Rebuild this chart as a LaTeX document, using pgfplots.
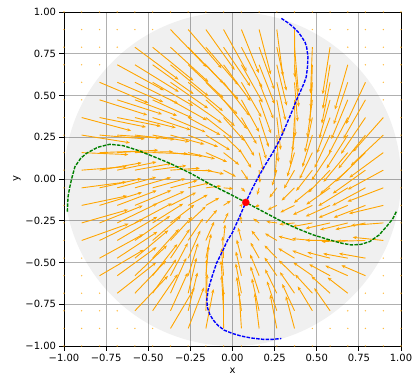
\documentclass[border=0pt]{standalone}
\usepackage{pgfplots}
\pgfplotsset{compat=1.18}
\usepackage{fontspec}
\setmainfont{DejaVu Sans}
\usetikzlibrary{arrows.meta}
\definecolor{mplorange}{HTML}{FFA500}
\definecolor{mplblue}{HTML}{0000FF}
\definecolor{mplgreen}{HTML}{008000}
\definecolor{mplred}{HTML}{FF0000}
\definecolor{gridgray}{HTML}{B0B0B0}
\begin{document}
\begin{tikzpicture}
\begin{axis}[
  scale only axis, width=337bp, height=334bp,
  xmin=-1, xmax=1, ymin=-1, ymax=1,
  xtick={-1,-0.75,-0.5,-0.25,0,0.25,0.5,0.75,1},
  ytick={-1,-0.75,-0.5,-0.25,0,0.25,0.5,0.75,1},
  xticklabels={−1.00,−0.75,−0.50,−0.25,0.00,0.25,0.50,0.75,1.00},
  yticklabels={−1.00,−0.75,−0.50,−0.25,0.00,0.25,0.50,0.75,1.00},
  xtick pos=left, ytick pos=left,
  tick align=outside, major tick length=4.5bp,
  tick style={black, line width=0.8bp},
  axis line style={black, line width=0.8bp},
  grid=major, grid style={gridgray, line width=0.8bp},
  tick label style={font=\fontsize{10}{12}\selectfont},
  label style={font=\fontsize{10}{12}\selectfont},
  xlabel={x}, ylabel={y},
  xlabel style={yshift=0bp},
  ylabel style={yshift=-2bp},
]
\fill[black, fill opacity=0.06] (axis cs:0,0) ellipse [x radius=1, y radius=1];
% masked (zero) vectors
\addplot[only marks, mark=*, mark size=0.5bp, mplorange, opacity=0.55] coordinates {
(-1,1) (-0.895,1) (-0.789,1) (-0.684,1) (-0.579,1) (-0.474,1) (-0.368,1) (-0.263,1) (-0.158,1) (-0.053,1) (0.053,1) (0.158,1) (0.263,1) (0.368,1) (0.474,1) (0.579,1) (0.684,1) (0.789,1) (0.895,1) (1,1)
(-1,0.895) (-0.895,0.895) (-0.789,0.895) (-0.684,0.895) (-0.579,0.895) (-0.474,0.895) (0.474,0.895) (0.579,0.895) (0.684,0.895) (0.789,0.895) (0.895,0.895) (1,0.895)
(-1,0.789) (-0.895,0.789) (-0.789,0.789) (-0.684,0.789) (0.684,0.789) (0.789,0.789) (0.895,0.789) (1,0.789)
(-1,0.684) (-0.895,0.684) (-0.789,0.684) (0.789,0.684) (0.895,0.684) (1,0.684)
(-1,0.579) (-0.895,0.579) (0.895,0.579) (1,0.579)
(-1,0.474) (-0.895,0.474) (0.895,0.474) (1,0.474)
(-1,0.368) (1,0.368) (-1,0.263) (1,0.263) (-1,0.158) (1,0.158) (-1,0.053) (1,0.053)
(-1,-0.053) (1,-0.053) (-1,-0.158) (1,-0.158) (-1,-0.263) (1,-0.263) (-1,-0.368) (1,-0.368)
(-1,-0.474) (-0.895,-0.474) (0.895,-0.474) (1,-0.474)
(-1,-0.579) (-0.895,-0.579) (0.895,-0.579) (1,-0.579)
(-1,-0.684) (-0.895,-0.684) (-0.789,-0.684) (0.789,-0.684) (0.895,-0.684) (1,-0.684)
(-1,-0.789) (-0.895,-0.789) (-0.789,-0.789) (-0.684,-0.789) (0.684,-0.789) (0.789,-0.789) (0.895,-0.789) (1,-0.789)
(-1,-0.895) (-0.895,-0.895) (-0.789,-0.895) (-0.684,-0.895) (-0.579,-0.895) (-0.474,-0.895) (0.474,-0.895) (0.579,-0.895) (0.684,-0.895) (0.789,-0.895) (0.895,-0.895) (1,-0.895)
(-1,-1) (-0.895,-1) (-0.789,-1) (-0.684,-1) (-0.579,-1) (-0.474,-1) (-0.368,-1) (-0.263,-1) (-0.158,-1) (-0.053,-1) (0.053,-1) (0.158,-1) (0.263,-1) (0.368,-1) (0.474,-1) (0.579,-1) (0.684,-1) (0.789,-1) (0.895,-1) (1,-1)
};
% vector field
\addplot[mplorange, line width=0.9bp, -{Stealth[length=4bp,width=3.2bp]},
  quiver={u=\thisrow{u}, v=\thisrow{v}}] table[x=x, y=y] {
x y u v
-0.368 0.895 0.215 -0.225
-0.263 0.895 0.198 -0.232
-0.158 0.895 0.171 -0.242
-0.053 0.895 0.137 -0.250
0.053 0.895 0.103 -0.260
0.158 0.895 0.069 -0.268
0.263 0.895 0.036 -0.277
0.368 0.895 0.002 -0.286
-0.579 0.789 0.259 -0.194
-0.474 0.789 0.242 -0.200
-0.368 0.789 0.225 -0.208
-0.263 0.789 0.209 -0.216
-0.158 0.789 0.191 -0.225
-0.053 0.789 0.158 -0.233
0.053 0.789 0.124 -0.243
0.158 0.789 0.090 -0.252
0.263 0.789 0.057 -0.260
0.368 0.789 0.023 -0.269
0.474 0.789 -0.011 -0.276
0.579 0.789 -0.044 -0.281
-0.684 0.684 0.277 -0.153
-0.579 0.684 0.260 -0.162
-0.474 0.684 0.243 -0.175
-0.368 0.684 0.226 -0.189
-0.263 0.684 0.209 -0.199
-0.158 0.684 0.193 -0.208
-0.053 0.684 0.160 -0.217
0.053 0.684 0.126 -0.226
0.158 0.684 0.092 -0.235
0.263 0.684 0.059 -0.244
0.368 0.684 0.025 -0.252
0.474 0.684 -0.009 -0.259
0.579 0.684 -0.043 -0.264
0.684 0.684 -0.076 -0.268
-0.789 0.579 0.290 -0.124
-0.684 0.579 0.273 -0.119
-0.579 0.579 0.257 -0.128
-0.474 0.579 0.240 -0.141
-0.368 0.579 0.223 -0.156
-0.263 0.579 0.206 -0.172
-0.158 0.579 0.187 -0.191
-0.053 0.579 0.153 -0.200
0.053 0.579 0.119 -0.209
0.158 0.579 0.085 -0.218
0.263 0.579 0.052 -0.227
0.368 0.579 0.018 -0.235
0.474 0.579 -0.016 -0.242
0.579 0.579 -0.049 -0.247
0.684 0.579 -0.083 -0.251
0.789 0.579 -0.116 -0.250
-0.789 0.474 0.283 -0.091
-0.684 0.474 0.266 -0.086
-0.579 0.474 0.250 -0.095
-0.474 0.474 0.233 -0.108
-0.368 0.474 0.216 -0.122
-0.263 0.474 0.199 -0.138
-0.158 0.474 0.172 -0.157
-0.053 0.474 0.139 -0.174
0.053 0.474 0.105 -0.192
0.158 0.474 0.071 -0.201
0.263 0.474 0.037 -0.210
0.368 0.474 0.004 -0.218
0.474 0.474 -0.030 -0.225
0.579 0.474 -0.064 -0.230
0.684 0.474 -0.097 -0.234
0.789 0.474 -0.131 -0.233
-0.895 0.368 0.293 -0.079
-0.789 0.368 0.276 -0.057
-0.684 0.368 0.259 -0.052
-0.579 0.368 0.242 -0.061
-0.474 0.368 0.225 -0.074
-0.368 0.368 0.209 -0.088
-0.263 0.368 0.191 -0.104
-0.158 0.368 0.158 -0.124
-0.053 0.368 0.124 -0.140
0.053 0.368 0.090 -0.158
0.158 0.368 0.057 -0.176
0.263 0.368 0.023 -0.193
0.368 0.368 -0.011 -0.201
0.474 0.368 -0.044 -0.208
0.579 0.368 -0.078 -0.213
0.684 0.368 -0.112 -0.217
0.789 0.368 -0.145 -0.217
0.895 0.368 -0.179 -0.204
-0.895 0.263 0.286 -0.046
-0.789 0.263 0.269 -0.023
-0.684 0.263 0.252 -0.018
-0.579 0.263 0.235 -0.027
-0.474 0.263 0.218 -0.040
-0.368 0.263 0.201 -0.055
-0.263 0.263 0.177 -0.071
-0.158 0.263 0.143 -0.090
-0.053 0.263 0.110 -0.107
0.053 0.263 0.076 -0.125
0.158 0.263 0.042 -0.143
0.263 0.263 0.009 -0.160
0.368 0.263 -0.025 -0.177
0.474 0.263 -0.059 -0.191
0.579 0.263 -0.092 -0.196
0.684 0.263 -0.126 -0.200
0.789 0.263 -0.160 -0.200
0.895 0.263 -0.193 -0.183
-0.895 0.158 0.277 -0.012
-0.789 0.158 0.260 0.010
-0.684 0.158 0.243 0.015
-0.579 0.158 0.226 0.006
-0.474 0.158 0.209 -0.007
-0.368 0.158 0.192 -0.021
-0.263 0.158 0.159 -0.037
-0.158 0.158 0.126 -0.056
-0.053 0.158 0.092 -0.073
0.053 0.158 0.058 -0.091
0.158 0.158 0.025 -0.109
0.263 0.158 -0.009 -0.127
0.368 0.158 -0.043 -0.143
0.474 0.158 -0.076 -0.157
0.579 0.158 -0.110 -0.167
0.684 0.158 -0.144 -0.175
0.789 0.158 -0.177 -0.174
0.895 0.158 -0.202 -0.150
-0.895 0.053 0.267 0.021
-0.789 0.053 0.250 0.044
-0.684 0.053 0.233 0.049
-0.579 0.053 0.217 0.040
-0.474 0.053 0.200 0.027
-0.368 0.053 0.174 0.012
-0.263 0.053 0.140 -0.004
-0.158 0.053 0.107 -0.023
-0.053 0.053 0.073 -0.039
0.053 0.053 0.039 -0.058
0.158 0.053 0.005 -0.076
0.263 0.053 -0.028 -0.093
0.368 0.053 -0.062 -0.110
0.474 0.053 -0.096 -0.124
0.579 0.053 -0.129 -0.134
0.684 0.053 -0.163 -0.142
0.789 0.053 -0.194 -0.140
0.895 0.053 -0.211 -0.116
-0.895 -0.053 0.265 0.035
-0.789 -0.053 0.248 0.055
-0.684 -0.053 0.231 0.064
-0.579 -0.053 0.213 0.062
-0.474 -0.053 0.195 0.055
-0.368 -0.053 0.160 0.044
-0.263 -0.053 0.126 0.030
-0.158 -0.053 0.091 0.011
-0.053 -0.053 0.057 -0.005
0.053 -0.053 0.022 -0.024
0.158 -0.053 -0.012 -0.042
0.263 -0.053 -0.044 -0.059
0.368 -0.053 -0.076 -0.076
0.474 -0.053 -0.109 -0.090
0.579 -0.053 -0.141 -0.100
0.684 -0.053 -0.174 -0.108
0.789 -0.053 -0.196 -0.106
0.895 -0.053 -0.212 -0.082
-0.895 -0.158 0.270 0.057
-0.789 -0.158 0.252 0.078
-0.684 -0.158 0.234 0.089
-0.579 -0.158 0.216 0.090
-0.474 -0.158 0.188 0.084
-0.368 -0.158 0.152 0.077
-0.263 -0.158 0.116 0.064
-0.158 -0.158 0.079 0.045
-0.053 -0.158 0.043 0.028
0.053 -0.158 0.007 0.010
0.158 -0.158 -0.025 -0.008
0.263 -0.158 -0.054 -0.026
0.368 -0.158 -0.084 -0.042
0.474 -0.158 -0.115 -0.056
0.579 -0.158 -0.144 -0.066
0.684 -0.158 -0.173 -0.074
0.789 -0.158 -0.188 -0.073
0.895 -0.158 -0.203 -0.049
-0.895 -0.263 0.275 0.079
-0.789 -0.263 0.256 0.103
-0.684 -0.263 0.237 0.116
-0.579 -0.263 0.218 0.117
-0.474 -0.263 0.181 0.115
-0.368 -0.263 0.142 0.109
-0.263 -0.263 0.104 0.098
-0.158 -0.263 0.066 0.078
-0.053 -0.263 0.028 0.062
0.053 -0.263 -0.007 0.044
0.158 -0.263 -0.035 0.026
0.263 -0.263 -0.062 0.008
0.368 -0.263 -0.090 -0.009
0.474 -0.263 -0.117 -0.022
0.579 -0.263 -0.145 -0.033
0.684 -0.263 -0.164 -0.041
0.789 -0.263 -0.178 -0.039
0.895 -0.263 -0.192 -0.015
-0.895 -0.368 0.278 0.100
-0.789 -0.368 0.258 0.127
-0.684 -0.368 0.238 0.142
-0.579 -0.368 0.208 0.146
-0.474 -0.368 0.168 0.145
-0.368 -0.368 0.128 0.141
-0.263 -0.368 0.088 0.131
-0.158 -0.368 0.049 0.112
-0.053 -0.368 0.009 0.095
0.053 -0.368 -0.020 0.077
0.158 -0.368 -0.045 0.059
0.263 -0.368 -0.070 0.042
0.368 -0.368 -0.095 0.025
0.474 -0.368 -0.120 0.011
0.579 -0.368 -0.144 0.001
0.684 -0.368 -0.156 -0.007
0.789 -0.368 -0.169 -0.005
0.895 -0.368 -0.182 0.019
-0.789 -0.474 0.259 0.143
-0.684 -0.474 0.238 0.158
-0.579 -0.474 0.198 0.167
-0.474 -0.474 0.156 0.174
-0.368 -0.474 0.114 0.174
-0.263 -0.474 0.072 0.165
-0.158 -0.474 0.031 0.146
-0.053 -0.474 -0.006 0.129
0.053 -0.474 -0.028 0.111
0.158 -0.474 -0.051 0.093
0.263 -0.474 -0.073 0.076
0.368 -0.474 -0.096 0.059
0.474 -0.474 -0.119 0.045
0.579 -0.474 -0.135 0.035
0.684 -0.474 -0.146 0.027
0.789 -0.474 -0.157 0.028
-0.789 -0.579 0.262 0.155
-0.684 -0.579 0.233 0.171
-0.579 -0.579 0.190 0.181
-0.474 -0.579 0.146 0.189
-0.368 -0.579 0.102 0.195
-0.263 -0.579 0.059 0.195
-0.158 -0.579 0.016 0.180
-0.053 -0.579 -0.013 0.163
0.053 -0.579 -0.033 0.145
0.158 -0.579 -0.053 0.127
0.263 -0.579 -0.073 0.109
0.368 -0.579 -0.093 0.092
0.474 -0.579 -0.113 0.079
0.579 -0.579 -0.124 0.068
0.684 -0.579 -0.133 0.060
0.789 -0.579 -0.143 0.062
-0.684 -0.684 0.230 0.183
-0.579 -0.684 0.185 0.195
-0.474 -0.684 0.140 0.203
-0.368 -0.684 0.094 0.211
-0.263 -0.684 0.049 0.212
-0.158 -0.684 0.004 0.203
-0.053 -0.684 -0.016 0.194
0.053 -0.684 -0.034 0.178
0.158 -0.684 -0.051 0.160
0.263 -0.684 -0.069 0.143
0.368 -0.684 -0.086 0.126
0.474 -0.684 -0.102 0.112
0.579 -0.684 -0.111 0.102
0.684 -0.684 -0.120 0.094
-0.579 -0.789 0.196 0.209
-0.474 -0.789 0.149 0.219
-0.368 -0.789 0.102 0.227
-0.263 -0.789 0.055 0.229
-0.158 -0.789 0.008 0.219
-0.053 -0.789 -0.012 0.211
0.053 -0.789 -0.028 0.202
0.158 -0.789 -0.043 0.193
0.263 -0.789 -0.058 0.176
0.368 -0.789 -0.073 0.160
0.474 -0.789 -0.087 0.146
0.579 -0.789 -0.094 0.136
-0.368 -0.895 0.143 0.244
-0.263 -0.895 0.094 0.246
-0.158 -0.895 0.045 0.236
-0.053 -0.895 -0.001 0.228
0.053 -0.895 -0.014 0.219
0.158 -0.895 -0.026 0.210
0.263 -0.895 -0.039 0.201
0.368 -0.895 -0.051 0.193
};
% x-nullcline
\addplot[mplblue, line width=1.4bp, dash pattern=on 3.5bp off 1.3bp] coordinates {
(0.29,0.962) (0.33,0.935) (0.36,0.91) (0.39,0.88) (0.41,0.852) (0.43,0.82) (0.44,0.79) (0.448,0.732) (0.445,0.67) (0.438,0.613) (0.425,0.575) (0.41,0.54) (0.38,0.473) (0.355,0.41) (0.33,0.35) (0.305,0.29) (0.28,0.234) (0.24,0.16) (0.2,0.094) (0.155,0.015) (0.113,-0.066) (0.079,-0.14) (0.04,-0.23) (0.0,-0.32) (-0.03,-0.368) (-0.056,-0.425) (-0.08,-0.474) (-0.095,-0.505) (-0.12,-0.58) (-0.145,-0.665) (-0.152,-0.72) (-0.15,-0.765) (-0.135,-0.81) (-0.115,-0.844) (-0.085,-0.878) (-0.05,-0.905) (0.0,-0.925) (0.05,-0.94) (0.11,-0.952) (0.18,-0.96) (0.24,-0.96) (0.29,-0.955)
};
% y-nullcline
\addplot[mplgreen, line width=1.4bp, dash pattern=on 3.5bp off 1.3bp] coordinates {
(-0.98,-0.196) (-0.978,-0.14) (-0.975,-0.1) (-0.966,-0.05) (-0.955,0.0) (-0.935,0.074) (-0.9,0.125) (-0.866,0.154) (-0.8,0.19) (-0.728,0.208) (-0.65,0.2) (-0.569,0.174) (-0.47,0.135) (-0.372,0.094) (-0.25,0.035) (-0.135,-0.03) (-0.016,-0.09) (0.079,-0.14) (0.2,-0.205) (0.3,-0.258) (0.38,-0.295) (0.48,-0.335) (0.577,-0.365) (0.65,-0.385) (0.705,-0.395) (0.76,-0.392) (0.814,-0.375) (0.87,-0.335) (0.913,-0.286) (0.95,-0.24) (0.972,-0.196)
};
% equilibrium
\addplot[only marks, mark=*, mark size=3.5bp, mplred] coordinates {(0.079,-0.14)};
\end{axis}
\pgfresetboundingbox
\path ([xshift=-64bp,yshift=-36bp]current axis.south west) rectangle ([xshift=16bp,yshift=12bp]current axis.north east);
\end{tikzpicture}
\end{document}
